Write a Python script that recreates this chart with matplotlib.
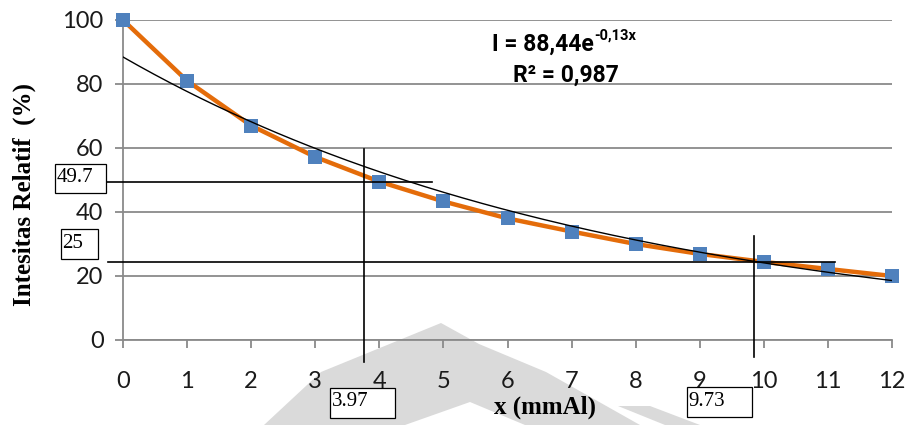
import matplotlib
matplotlib.use('Agg')
import matplotlib.pyplot as plt
import numpy as np
from matplotlib.patches import Rectangle, Polygon

# ---- data ----
thickness = list(range(0, 13))
intensity = [100, 81, 67, 57.2, 49.5, 43.3, 38, 33.9, 30, 26.9, 24.4, 22.2, 20]
fit_a = 88.44
fit_k = 0.13
fit_text = "I = 88,44e"
fit_exp = "-0,13x"
r2_text = "R² = 0,987"
xticks = list(range(0, 13))
yticks = [0, 20, 40, 60, 80, 100]
hline_y = [49.5, 24.4]
hline_xmin = [-0.27, -0.23]
hline_xmax = [4.82, 11.11]
vline_x = [3.76, 9.84]
vline_ytop = [59.6, 32.6]
vline_ybot = [-6.8, -5.3]
ybox_labels = ['49.7', '25']
xbox_labels = ['3.97', '9.73']

W, H = 908, 425
fig = plt.figure(figsize=(W / 100, H / 100), dpi=100)


def fx(px):
    return px / W


def fy(py):
    return 1 - py / H


def fpts(pts):
    return [(fx(a), fy(b)) for a, b in pts]


# faint watermark behind the chart
wm_color = '#dadada'
wm_shapes = [
    ([(264, 425), (321, 372), (441, 323), (479, 344), (546, 372), (640, 425)], wm_color, -3),
    ([(405, 425), (470, 402), (525, 425)], 'white', -2),
    ([(618, 406), (650, 406), (700, 425), (665, 425)], wm_color, -2),
]
for pts, col, z in wm_shapes:
    fig.add_artist(Polygon(fpts(pts), closed=True, transform=fig.transFigure,
                           facecolor=col, edgecolor='none', zorder=z))

ax = fig.add_axes([fx(123), fy(340), (892 - 123) / W, (340 - 20) / H])
ax.set_facecolor('none')
ax.set_xlim(0, 12)
ax.set_ylim(0, 100)
for s in ['top', 'right']:
    ax.spines[s].set_visible(False)
grey = '#8a8a8a'
for s in ['left', 'bottom']:
    ax.spines[s].set_color(grey)
    ax.spines[s].set_linewidth(1.3)
ax.yaxis.grid(True, color=grey, lw=1.3)
ax.set_axisbelow(True)
ax.set_xticks(xticks)
ax.set_yticks(yticks)
tick_font = 'Lato'
ax.tick_params(axis='y', length=6, width=1.3, color=grey, pad=8, labelsize=17)
ax.tick_params(axis='x', length=6, width=1.3, color=grey, pad=16, labelsize=17)
for lab in ax.get_xticklabels() + ax.get_yticklabels():
    lab.set_fontfamily(tick_font)
    lab.set_color('#1a1a1a')

# data series
ax.plot(thickness, intensity, color='#E46C0A', lw=3.2, zorder=3, clip_on=False,
        solid_capstyle='round', solid_joinstyle='round')
ax.plot(thickness, intensity, ls='none', marker='s', ms=9.5, mew=0,
        color='#4F81BD', zorder=4, clip_on=False)

# exponential trendline from the chart's stated fit
xs = np.linspace(0, 12, 200)
ax.plot(xs, fit_a * np.exp(-fit_k * xs), color='black', lw=1.0, zorder=5)

# reading lines
for yv, x0, x1 in zip(hline_y, hline_xmin, hline_xmax):
    ax.plot([x0, x1], [yv, yv], color='black', lw=1.2, zorder=6, clip_on=False)
for xv, y0, y1 in zip(vline_x, vline_ybot, vline_ytop):
    ax.plot([xv, xv], [y0, y1], color='black', lw=1.2, zorder=6, clip_on=False)

# value boxes (pixel boxes)
box_specs = [
    (ybox_labels[0], 55, 164, 106, 193),
    (ybox_labels[1], 61, 229, 98, 259),
    (xbox_labels[0], 330, 388, 395, 418),
    (xbox_labels[1], 687, 387, 752, 417),
]
for txt, x0, y0, x1, y1 in box_specs:
    fig.add_artist(Rectangle((fx(x0), fy(y1)), (x1 - x0) / W, (y1 - y0) / H,
                             transform=fig.transFigure, facecolor='white',
                             edgecolor='black', lw=0.9, zorder=7))
    fig.text(fx(x0 + 1.5), fy((y0 + y1) / 2 - 1), txt, fontsize=15,
             family='Liberation Serif', ha='left', va='center', zorder=8)

# axis labels
fig.text(fx(24), fy(194), 'Intesitas Relatif  (%)', rotation=90, fontsize=18,
         family='Liberation Serif', weight='bold', ha='center', va='center')
fig.text(fx(545), fy(407), 'x (mmAl)', fontsize=18, family='Liberation Serif',
         weight='bold', ha='center', va='center')

# fit annotation
ann_font = 'Roboto'
t1 = fig.text(fx(492), fy(51), fit_text, fontsize=16.5, family=ann_font,
              weight='bold', ha='left', va='baseline')
fig.canvas.draw()
bb = t1.get_window_extent()
fig.text(bb.x1 / W + 0.001, fy(40), fit_exp, fontsize=10.5, family=ann_font,
         weight='bold', ha='left', va='baseline')
fig.text(fx(566), fy(82), r2_text, fontsize=16.5, family=ann_font,
         weight='bold', ha='center', va='baseline')

fig.savefig('out.png', dpi=100)
